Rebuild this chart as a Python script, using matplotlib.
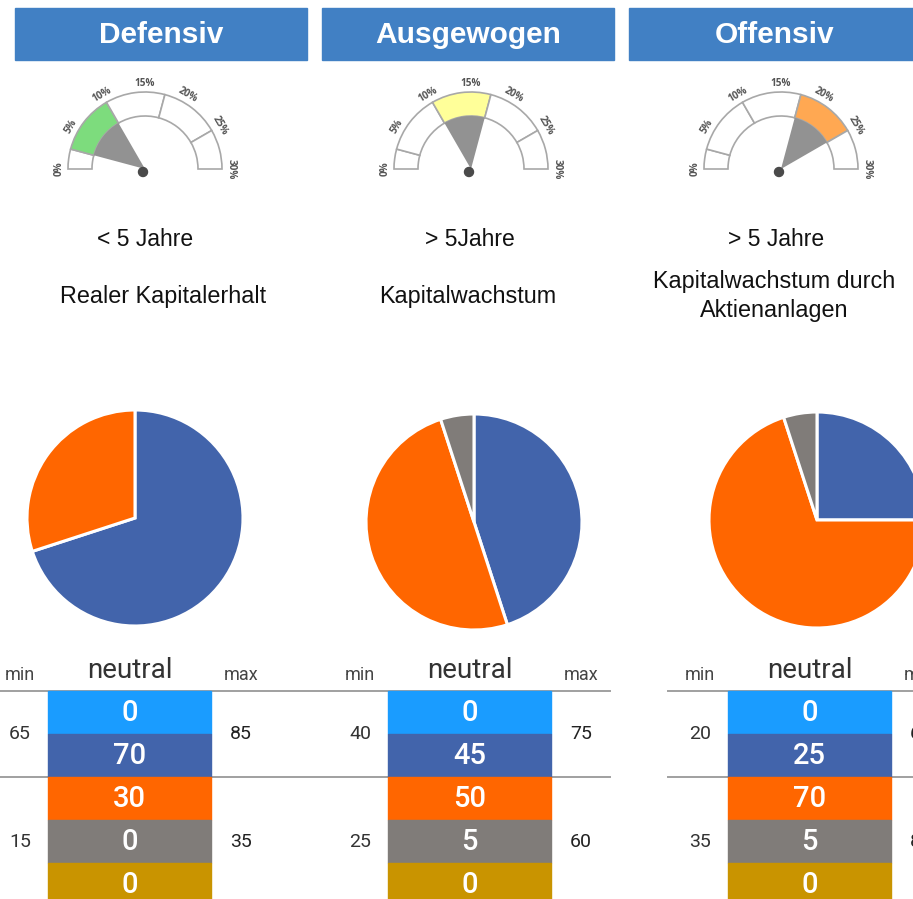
import math
import matplotlib
matplotlib.use("Agg")
import matplotlib.pyplot as plt
from matplotlib.patches import Rectangle, Wedge, Circle

# profile data
titles = ["Defensiv", "Ausgewogen", "Offensiv"]
horizons = ["< 5 Jahre", "> 5Jahre", "> 5 Jahre"]
goals = ["Realer Kapitalerhalt", "Kapitalwachstum", "Kapitalwachstum durch\nAktienanlagen"]

# gauge (return expectation in %)
gauge_ticks = [0, 5, 10, 15, 20, 25, 30]
gauge_bands = [0, 2.5, 10, 17.5, 25, 30]
gauge_active = [1, 2, 3]
gauge_colors = ["#7ddc7d", "#ffff99", "#ffa852"]

# neutral allocation (%)
asset_colors = ["#1a9cff", "#4264ab", "#ff6600", "#807c79", "#c99400"]
liquid = [0, 0, 0]
bonds = [70, 45, 25]
stocks = [30, 50, 70]
alternative = [0, 5, 5]
gold = [0, 0, 0]
bonds_min = [65, 40, 20]
bonds_max = [85, 75, 65]
stocks_min = [15, 25, 35]
stocks_max = [35, 60, 80]

W, H = 913, 899
fig = plt.figure(figsize=(W / 100, H / 100), dpi=100)
ax = fig.add_axes([0, 0, 1, 1])

tfont = "Roboto"
col_x = [0, 307, 614]

for i in range(3):
    x0 = col_x[i]
    # header box
    ax.add_patch(Rectangle((x0 + 15, 8), 292, 52, color="#4180c4", zorder=1))
    ax.text(x0 + 161, 35, titles[i], color="white", fontsize=21.5, fontweight="bold",
            family="Liberation Sans", ha="center", va="center")

    # gauge
    gx = [145, 471, 781][i]
    gy = 169
    R, r = 77, 53
    for b in range(len(gauge_bands) - 1):
        v1, v2 = gauge_bands[b], gauge_bands[b + 1]
        fc = gauge_colors[i] if b == gauge_active[i] else "white"
        ax.add_patch(Wedge((gx, gy), R, 6 * v1 - 180, 6 * v2 - 180, width=R - r,
                           facecolor=fc, edgecolor="#a8a8a8", lw=1.2, zorder=2))
    b = gauge_active[i]
    ax.add_patch(Wedge((gx, gy), r, 6 * gauge_bands[b] - 180, 6 * gauge_bands[b + 1] - 180,
                       facecolor="#929292", edgecolor="none", zorder=3))
    ax.add_patch(Circle((gx - 2, gy + 3), 4.5, color="#4a4a4a", zorder=4))
    for t in gauge_ticks:
        phi = math.radians(180 - 6 * t)
        tx = gx + 86 * math.cos(phi)
        ty = gy - 86 * math.sin(phi)
        ax.text(tx, ty, f"{t}%", fontsize=7.2, fontweight="bold", color="#555555",
                family="Open Sans", ha="center", va="center",
                rotation=(180 - 6 * t) - 90)

    # texts
    ax.text([145, 470, 776][i], 239, horizons[i], fontsize=16.5, family="Liberation Sans",
            ha="center", va="center", color="#111111")
    ax.text([163, 468, 774][i], [297, 297, 296][i], goals[i], fontsize=16.8,
            family="Liberation Sans", ha="center", va="center", color="#111111",
            linespacing=1.35)

    # pie
    vals = [liquid[i], bonds[i], stocks[i], alternative[i], gold[i]]
    pv = [v for v in vals if v > 0]
    pc = [c for v, c in zip(vals, asset_colors) if v > 0]
    ax.pie(pv, colors=pc, center=([135, 474, 817][i], [518, 522, 520][i]), radius=108,
           startangle=270, counterclock=True, frame=True,
           wedgeprops=dict(edgecolor="white", linewidth=2.2))

    # table
    tx0 = [48, 388, 728][i]
    cw = 163
    ax.text(tx0 - 28, 675, "min", fontsize=13, family=tfont, color="#444444", ha="center", va="center")
    ax.text(tx0 + cw / 2, 670, "neutral", fontsize=20, family=tfont, color="#333333", ha="center", va="center")
    ax.text(tx0 + cw + 30, 675, "max", fontsize=13, family=tfont, color="#444444", ha="center", va="center")
    row_tops = [691, 734, 777, 820, 863]
    for k, v in enumerate(vals):
        ax.add_patch(Rectangle((tx0, row_tops[k]), cw, 43, color=asset_colors[k], zorder=2))
        ax.text(tx0 + cw / 2, row_tops[k] + 22, str(v), fontsize=21, family=tfont,
                fontweight="medium", color="white", ha="center", va="center", zorder=3)
    ax.text(tx0 - 28, 734, str(bonds_min[i]), fontsize=14, family=tfont, color="#333333", ha="center", va="center")
    ax.text(tx0 + cw + 30, 734, str(bonds_max[i]), fontsize=14, family=tfont, color="#222222", ha="center", va="center")
    ax.text(tx0 - 28, 842, str(stocks_min[i]), fontsize=14, family=tfont, color="#333333", ha="center", va="center")
    ax.text(tx0 + cw + 30, 842, str(stocks_max[i]), fontsize=14, family=tfont, color="#222222", ha="center", va="center")

# table rules
for y in [691, 777]:
    ax.plot([0, 610], [y, y], color="#a0a0a0", lw=1.4, zorder=1)
    ax.plot([668, 913], [y, y], color="#a0a0a0", lw=1.4, zorder=1)

ax.set_xlim(0, W)
ax.set_ylim(H, 0)
ax.set_aspect("auto")
ax.axis("off")
fig.savefig("out.png", dpi=100, facecolor="white")
